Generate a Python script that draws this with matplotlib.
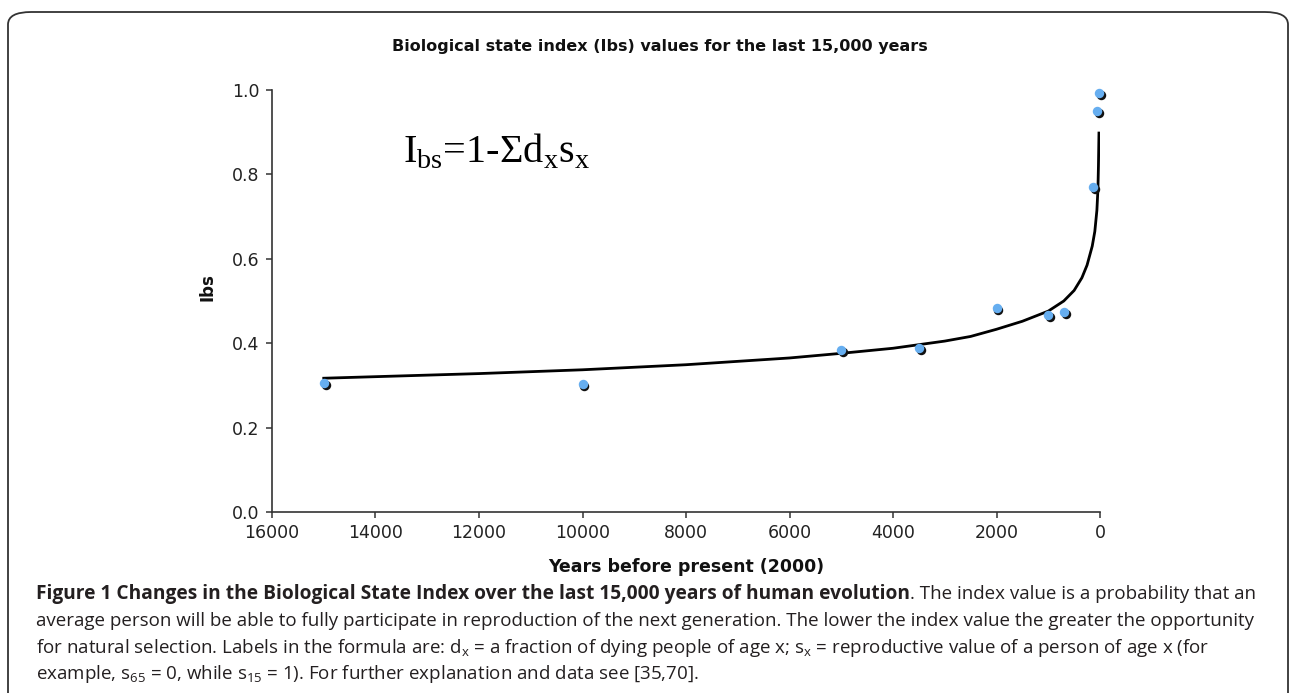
import numpy as np
import matplotlib.pyplot as plt
from matplotlib.patches import FancyBboxPatch
from matplotlib.transforms import offset_copy

# %%
# data points
years = [15000, 10000, 5000, 3500, 2000, 1000, 700, 130, 60, 20]
ibs = [0.305, 0.304, 0.384, 0.389, 0.483, 0.467, 0.474, 0.770, 0.950, 0.993]

# trend line
trend_years = [15000, 12000, 10000, 8000, 6000, 5000, 4000, 3000, 2500, 2000,
               1500, 1000, 700, 500, 350, 250, 150, 100, 60, 40, 30, 20]
trend_ibs = [0.317, 0.328, 0.337, 0.349, 0.365, 0.376, 0.388, 0.405, 0.416, 0.433,
             0.452, 0.476, 0.500, 0.525, 0.555, 0.585, 0.630, 0.665, 0.715, 0.765, 0.820, 0.898]

x_ticks = [16000, 14000, 12000, 10000, 8000, 6000, 4000, 2000, 0]
y_ticks = [0.0, 0.2, 0.4, 0.6, 0.8, 1.0]

title = "Biological state index (Ibs) values for the last 15,000 years"
caption_bold = "Figure 1 Changes in the Biological State Index over the last 15,000 years of human evolution"
caption_lines = [
    ". The index value is a probability that an",
    "average person will be able to fully participate in reproduction of the next generation. The lower the index value the greater the opportunity",
    r"for natural selection. Labels in the formula are: d$_{\mathregular{x}}$ = a fraction of dying people of age x; s$_{\mathregular{x}}$ = reproductive value of a person of age x (for",
    r"example, s$_{\mathregular{65}}$ = 0, while s$_{\mathregular{15}}$ = 1). For further explanation and data see [35,70].",
]

W, H = 1292, 693
fig = plt.figure(figsize=(W / 100, H / 100), dpi=100)

# rounded frame round the whole figure (bottom runs off the page)
frame = FancyBboxPatch((8 / W, -0.1), (W - 12) / W, (H - 12) / H + 0.1,
                       boxstyle="round,pad=0,rounding_size=0.018",
                       transform=fig.transFigure, fill=False,
                       edgecolor='#333333', linewidth=1.3)
fig.patches.append(frame)

# %%
ax = fig.add_axes([272 / W, 1 - 512 / H, 828 / W, 422 / H])
ax.plot(trend_years, trend_ibs, color='black', linewidth=2.0, zorder=2)

shadow = offset_copy(ax.transData, fig=fig, x=1.8, y=-1.8, units='dots')
ax.plot(years, ibs, 'o', color='#111111', markersize=6.8, markeredgecolor='none',
        transform=shadow, zorder=3, clip_on=False)
ax.plot(years, ibs, 'o', color='#66aef0', markersize=6.8, markeredgecolor='none',
        zorder=4, clip_on=False)

ax.set_xlim(16000, 0)
ax.set_ylim(0, 1.0)
ax.set_xticks(x_ticks)
ax.set_xticklabels([str(t) for t in x_ticks])
ax.set_yticks(y_ticks)
ax.set_yticklabels(["%.1f" % t for t in y_ticks])
for s in ['top', 'right']:
    ax.spines[s].set_visible(False)
for s in ['left', 'bottom']:
    ax.spines[s].set_color('#333333')
    ax.spines[s].set_linewidth(1.2)
ax.tick_params(direction='out', length=4, width=1.1, color='#333333',
               labelsize=12.5, labelcolor='#222222', pad=5)
ax.patch.set_alpha(0)

# formula
fig.text(403 / W, 1 - 162 / H,
         r"I$_{\mathregular{bs}}$=1-Σd$_{\mathregular{x}}$s$_{\mathregular{x}}$",
         family='Liberation Serif', fontsize=29, va='baseline', ha='left')

# titles
fig.text(660 / W, 1 - 46 / H, title, ha='center', va='center',
         fontweight='bold', fontsize=11.5, color='#111111')
fig.text(686 / W, 1 - 567 / H, "Years before present (2000)", ha='center', va='center',
         fontweight='bold', fontsize=12.5, color='#111111')
fig.text(207 / W, 1 - 287 / H, "Ibs", ha='center', va='center', rotation=90,
         fontweight='bold', fontsize=12, color='#111111')

# %%
# caption below the chart
cap_font = 'Open Sans'
plt.rcParams['mathtext.fontset'] = 'custom'
plt.rcParams['mathtext.rm'] = cap_font
x0 = 36 / W
line_y = [594, 621, 648, 674]
t = fig.text(x0, 1 - line_y[0] / H, caption_bold, family=cap_font,
             fontweight='bold', fontsize=13.8, va='center', ha='left', color='#231f20')
renderer = fig.canvas.get_renderer()
bb = t.get_window_extent(renderer=renderer)
fig.text(bb.x1 / W, 1 - line_y[0] / H, caption_lines[0], family=cap_font,
         fontsize=13.5, va='center', ha='left', color='#231f20')
for i in range(1, 4):
    fig.text(x0, 1 - line_y[i] / H, caption_lines[i], family=cap_font,
             fontsize=13.5, va='center', ha='left', color='#231f20')

fig.savefig('out.png', dpi=100)
